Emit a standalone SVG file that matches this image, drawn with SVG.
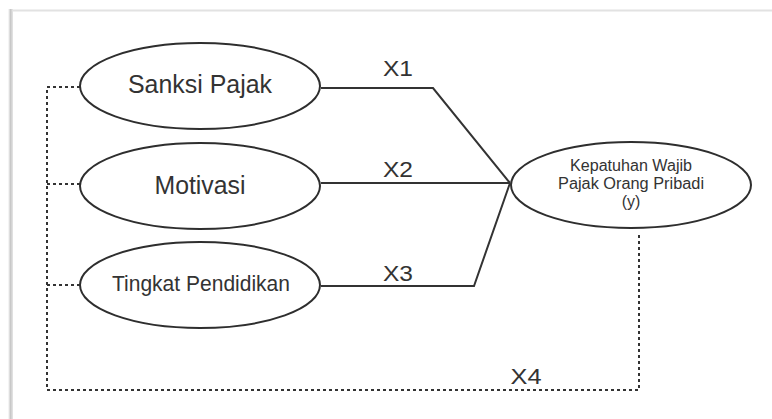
<svg xmlns="http://www.w3.org/2000/svg" width="772" height="419" viewBox="0 0 772 419">
  <defs>
    <linearGradient id="shadowL" x1="0" y1="0" x2="1" y2="0">
      <stop offset="0" stop-color="#ffffff"/>
      <stop offset="0.5" stop-color="#c8c8c8"/>
      <stop offset="1" stop-color="#e6e6e6"/>
    </linearGradient>
  </defs>
  <style>
    .node { fill: #ffffff; stroke: #2e2e2e; stroke-width: 2; }
    .lbl { font-family: "Liberation Sans", Arial, sans-serif; fill: #333333; text-anchor: middle; }
    .solid { fill: none; stroke: #333333; stroke-width: 2; stroke-linejoin: miter; }
    .dot { fill: none; stroke: #333333; stroke-width: 2; stroke-dasharray: 3 3; }
    .edge { font-family: "Liberation Sans", Arial, sans-serif; fill: #333333; font-size: 22px; text-anchor: middle; }
  </style>
  <rect width="772" height="419" fill="#ffffff"/>
  <g id="frame">
    <rect x="8" y="9" width="5" height="420" fill="url(#shadowL)"/>
    <line x1="12" y1="10.5" x2="772" y2="10.5" stroke="#e2e2e2" stroke-width="2"/>
  </g>
  <g id="connectors">
    <polyline class="solid" points="321,88 433,88 510,183"/>
    <line class="solid" x1="321" y1="183" x2="510" y2="183"/>
    <polyline class="solid" points="321,286 474,286 510,183"/>
    <polyline class="dot" points="80,87 47,87 47,390 639,390 639,233"/>
    <line class="dot" x1="47" y1="184" x2="80" y2="184"/>
    <line class="dot" x1="47" y1="285" x2="80" y2="285"/>
    <text class="edge" x="398" y="76" textLength="30" lengthAdjust="spacingAndGlyphs">X1</text>
    <text class="edge" x="398" y="177" textLength="30" lengthAdjust="spacingAndGlyphs">X2</text>
    <text class="edge" x="398" y="281" textLength="30" lengthAdjust="spacingAndGlyphs">X3</text>
    <text class="edge" x="526" y="384" textLength="31" lengthAdjust="spacingAndGlyphs">X4</text>
  </g>
  <g id="sanksi">
    <ellipse class="node" cx="200" cy="86" rx="120" ry="43"/>
    <text class="lbl" x="200" y="93" font-size="26" textLength="144" lengthAdjust="spacingAndGlyphs">Sanksi Pajak</text>
  </g>
  <g id="motivasi">
    <ellipse class="node" cx="200" cy="186" rx="120" ry="43"/>
    <text class="lbl" x="200" y="194" font-size="26" textLength="91" lengthAdjust="spacingAndGlyphs">Motivasi</text>
  </g>
  <g id="tingkat">
    <ellipse class="node" cx="200" cy="285" rx="120" ry="43"/>
    <text class="lbl" x="201" y="291" font-size="22" textLength="178" lengthAdjust="spacingAndGlyphs">Tingkat Pendidikan</text>
  </g>
  <g id="kepatuhan">
    <ellipse class="node" cx="631" cy="185" rx="120" ry="43"/>
    <text class="lbl" x="631" y="171" font-size="16" textLength="122" lengthAdjust="spacingAndGlyphs">Kepatuhan Wajib</text>
    <text class="lbl" x="631" y="189" font-size="16" textLength="146" lengthAdjust="spacingAndGlyphs">Pajak Orang Pribadi</text>
    <text class="lbl" x="631" y="207" font-size="16">(y)</text>
  </g>
</svg>
